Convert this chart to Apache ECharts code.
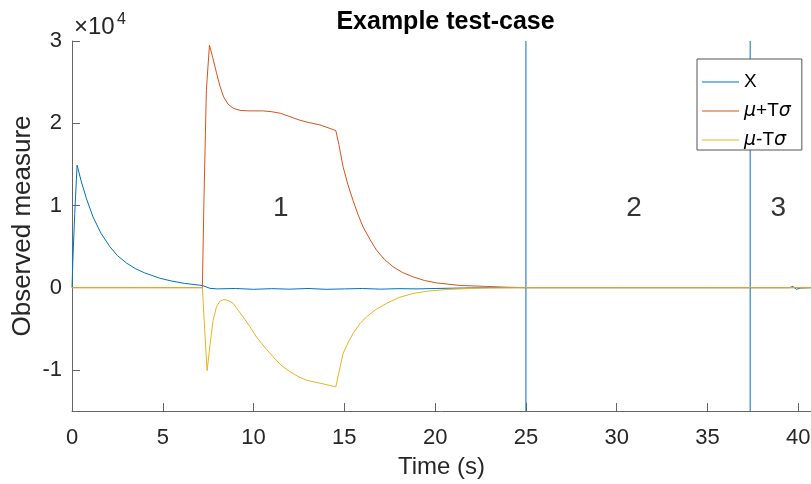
<!DOCTYPE html>
<html>
<head>
<meta charset="utf-8">
<title>Example test-case</title>
<script src="https://cdn.jsdelivr.net/npm/echarts@6/dist/echarts.min.js"></script>
<style>
  html, body { margin: 0; padding: 0; background: #fff; }
  #chart { width: 811px; height: 484px; }
</style>
</head>
<body>
<div id="chart"></div>
<script>
// --- Data ---

// X (observed signal)
const tX = [0, 0.05, 0.15, 0.28, 0.5, 0.8, 1.16, 1.6, 2.08, 2.5, 3.0, 3.5, 4.0, 4.83, 5.5, 6.2, 7.04, 7.2, 7.6, 8, 9, 10, 11, 12, 13, 14, 15, 16, 17, 18, 19, 20, 21, 22, 23, 25, 30, 35, 39.5, 39.7, 39.9, 40.1, 40.7];
const vX = [0, 3500, 9000, 14900, 13000, 10800, 8600, 6600, 5000, 3900, 3000, 2300, 1800, 1150, 800, 520, 300, 250, -80, -150, -100, -200, -120, -180, -100, -200, -150, -100, -180, -120, -150, -100, -60, -30, 0, 0, 0, 0, 0, 150, -200, -50, 0];

// mu + T sigma
const tUpper = [0, 7.18, 7.27, 7.4, 7.57, 7.75, 7.95, 8.15, 8.35, 8.6, 8.9, 9.3, 9.8, 10.5, 11.0, 11.5, 12.0, 12.5, 13.0, 13.65, 14.1, 14.53, 14.7, 14.93, 15.2, 15.48, 15.75, 16.03, 16.4, 16.77, 17.2, 17.69, 18.2, 18.79, 19.4, 20.08, 21.36, 22.83, 24, 25, 40.7];
const vUpper = [0, 0, 11000, 24000, 29500, 28000, 26200, 24500, 23200, 22300, 21800, 21550, 21500, 21500, 21400, 21200, 20800, 20400, 20100, 19800, 19450, 19100, 17400, 14700, 12500, 10600, 8900, 7400, 5900, 4560, 3450, 2530, 1850, 1310, 880, 580, 270, 150, 50, 0, 0];

// mu - T sigma
const tLower = [0, 7.18, 7.31, 7.44, 7.6, 7.77, 7.96, 8.15, 8.37, 8.6, 8.87, 9.42, 9.8, 10.16, 10.6, 11.07, 11.5, 11.99, 12.45, 12.91, 13.4, 13.83, 14.2, 14.53, 14.7, 14.93, 15.2, 15.48, 15.85, 16.22, 16.7, 17.32, 18.0, 18.79, 19.6, 20.63, 22.46, 25, 40.7];
const vLower = [0, 0, -5200, -10100, -7000, -4000, -2300, -1650, -1440, -1550, -1900, -3550, -4750, -6000, -7200, -8400, -9400, -10200, -10800, -11250, -11500, -11700, -11900, -12070, -10300, -8000, -6700, -5570, -4400, -3550, -2700, -1920, -1200, -700, -420, -220, -50, 0, 0];

// region boundaries and region labels
const boundaries = [25, 37.35];
const regionNames = ['1', '2', '3'];
const regionT = [11.5, 30.95, 38.9];
const regionV = [9630, 9630, 9630];

// axis ranges and ticks
const xRange = [0, 40.7];
const yRange = [-15000, 30000];
const xTicks = [0, 5, 10, 15, 20, 25, 30, 35, 40];
const yTicks = [-10000, 0, 10000, 20000, 30000];

const seriesNames = ['X', 'μ+Tσ', 'μ-Tσ'];

// --- Build & render ---

const pairs = (ts, vs) => ts.map((t, i) => [t, vs[i]]);

const FONT = 'Liberation Sans, Arial, Helvetica, sans-serif';
const INK = '#262626';
const BLUE = '#0072BD';

// thin line sample for the legend, centred in a 37x20 box
const LEGEND_LINE = 'path://M0,0M37,20M0,9.5H37V10.5H0Z';

const chart = echarts.init(document.getElementById('chart'), null, { renderer: 'canvas' });

const lineBase = { type: 'line', symbol: 'none', smooth: false, silent: true, z: 3 };

// boundary lines, full axis height
const boundarySeries = boundaries.map((b, i) => Object.assign({}, lineBase, {
    name: 'boundary' + i,
    data: [[b, yRange[0]], [b, yRange[1]]],
    lineStyle: { width: 1, color: BLUE },
    itemStyle: { color: BLUE },
    z: 2
}));

chart.setOption({
    animation: false,
    backgroundColor: '#fff',
    grid: { left: 72, right: 0, top: 41, bottom: 73, outerBoundsMode: 'none', containLabel: false },
    xAxis: {
        type: 'value',
        min: xRange[0],
        max: xRange[1],
        name: 'Time (s)',
        nameLocation: 'middle',
        nameGap: 44,
        nameMoveOverlap: false,
        nameTextStyle: { fontFamily: FONT, fontSize: 24, color: INK },
        axisLine: { onZero: false, lineStyle: { color: '#666', width: 1 } },
        axisTick: { inside: true, length: 8, customValues: xTicks, lineStyle: { color: '#666' } },
        axisLabel: { customValues: xTicks, margin: 16, fontFamily: FONT, fontSize: 22, color: INK },
        splitLine: { show: false }
    },
    yAxis: {
        type: 'value',
        min: yRange[0],
        max: yRange[1],
        name: 'Observed measure',
        nameLocation: 'middle',
        nameGap: 36,
        nameMoveOverlap: false,
        nameTextStyle: { fontFamily: FONT, fontSize: 26, color: INK },
        axisLine: { show: true, onZero: false, lineStyle: { color: '#666', width: 1 } },
        axisTick: { show: true, inside: true, length: 8, customValues: yTicks, lineStyle: { color: '#666' } },
        axisLabel: {
            customValues: yTicks,
            margin: 10,
            fontFamily: FONT,
            fontSize: 22,
            color: INK,
            formatter: v => String(v / 10000)
        },
        splitLine: { show: false }
    },
    legend: {
        data: seriesNames.map(n => ({ name: n, icon: LEGEND_LINE })),
        orient: 'vertical',
        left: 697,
        top: 59,
        padding: [13, 11, 0, 5],
        itemWidth: 37,
        itemHeight: 20,
        itemGap: 9,
        borderColor: '#555',
        borderWidth: 1,
        backgroundColor: '#fff',
        selectedMode: false,
        formatter: name => name.replace('μ', '{i|μ}').replace('σ', '{i|σ}'),
        textStyle: {
            fontFamily: FONT,
            fontSize: 19,
            lineHeight: 20,
            color: '#000',
            rich: {
                i: { fontFamily: 'DejaVu Sans, sans-serif', fontSize: 19, lineHeight: 20, fontStyle: 'italic', color: '#000' }
            }
        }
    },
    graphic: [
        {
            type: 'text',
            style: {
                x: 445.5, y: 22, text: 'Example test-case',
                font: 'bold 25px ' + FONT, fill: '#000',
                align: 'center', verticalAlign: 'middle'
            }
        },
        {
            type: 'text',
            style: {
                x: 74, y: 27, text: '×10',
                font: '24px ' + FONT, fill: INK,
                align: 'left', verticalAlign: 'middle'
            }
        },
        {
            type: 'text',
            style: {
                x: 117, y: 20, text: '4',
                font: '16px ' + FONT, fill: INK,
                align: 'left', verticalAlign: 'middle'
            }
        }
    ],
    series: [
        Object.assign({}, lineBase, {
            name: seriesNames[0],
            data: pairs(tX, vX),
            lineStyle: { width: 1, color: BLUE },
            itemStyle: { color: BLUE }
        }),
        Object.assign({}, lineBase, {
            name: seriesNames[1],
            data: pairs(tUpper, vUpper),
            lineStyle: { width: 1, color: '#D95319' },
            itemStyle: { color: '#D95319' }
        }),
        Object.assign({}, lineBase, {
            name: seriesNames[2],
            data: pairs(tLower, vLower),
            lineStyle: { width: 1, color: '#EDB120' },
            itemStyle: { color: '#EDB120' }
        }),
        ...boundarySeries,
        {
            name: 'regions',
            type: 'scatter',
            silent: true,
            symbolSize: 0,
            data: regionT.map((t, i) => ({ value: [t, regionV[i]], name: regionNames[i] })),
            label: {
                show: true,
                position: 'inside',
                formatter: p => p.name,
                fontFamily: FONT,
                fontSize: 28,
                color: '#000'
            }
        }
    ]
});
</script>
</body>
</html>
